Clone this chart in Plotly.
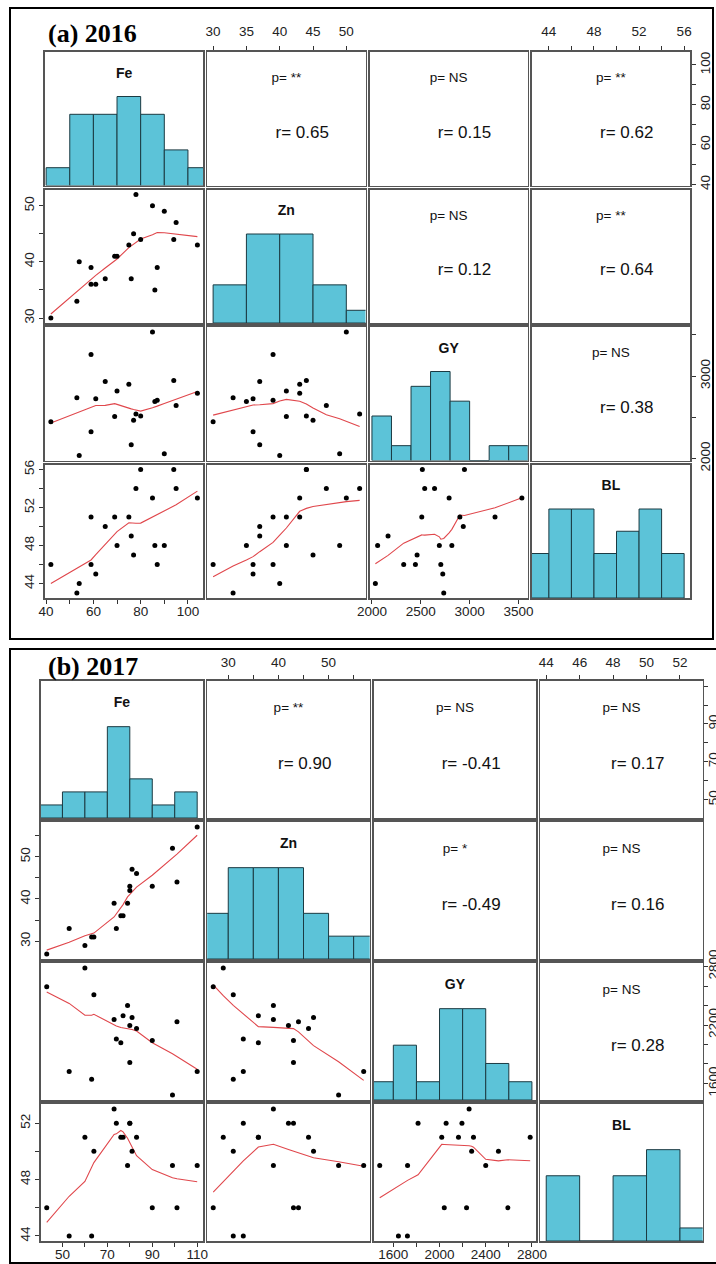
import numpy as np
import plotly.graph_objects as go

W, H = 716, 1264
VARS = ["Fe", "Zn", "GY", "BL"]

# ---------------- data ----------------
# (a) 2016, one value per genotype
fe16 = [42, 53, 54, 59, 59, 61, 65, 69, 70, 75, 76, 77, 78, 80, 85, 86, 87, 90, 94, 95, 104]
zn16 = [30, 33, 40, 39, 36, 36, 37, 41, 41, 43, 37, 45, 52, 44, 50, 35, 39, 49, 44, 47, 43]
gy16 = [2445, 2735, 2035, 3260, 2325, 2725, 2935, 2510, 2818, 2900, 2165, 2462, 2540, 2516,
        3535, 2690, 2705, 2058, 2947, 2641, 2790]
bl16 = [46, 43, 44, 51, 46, 45, 50, 51, 48, 51, 49, 47, 54, 56, 53, 48, 46, 48, 56, 54, 53]

# (b) 2017
fe17 = [43, 53, 60, 63, 64, 73, 74, 76, 77, 79, 80, 80, 81, 83, 90, 99, 101, 110]
zn17 = [27, 33, 29, 31, 31, 39, 33, 36, 36, 39, 42, 43, 47, 46, 43, 52, 44, 57]
gy17 = [2592, 1722, 2785, 1644, 2510, 2256, 2057, 2019, 2294, 2400, 2194, 1814, 2278, 2164,
        2041, 1482, 2234, 1723]
bl17 = [46, 44, 51, 44, 50, 53, 52, 51, 51, 49, 52, 52, 50, 51, 46, 49, 46, 49]

# upper-triangle labels, order: (Fe,Zn) (Fe,GY) (Fe,BL) (Zn,GY) (Zn,BL) (GY,BL)
r16 = ["0.65", "0.15", "0.62", "0.12", "0.64", "0.38"]
p16 = ["**", "NS", "**", "NS", "**", "NS"]
r17 = ["0.90", "-0.41", "0.17", "-0.49", "0.16", "0.28"]
p17 = ["**", "NS", "NS", "*", "NS", "NS"]

# histogram break points
edges16 = {"Fe": list(range(40, 111, 10)), "Zn": list(range(30, 56, 5)),
           "GY": list(range(2000, 3601, 200)), "BL": list(range(42, 57, 2))}
edges17 = {"Fe": list(range(40, 111, 10)), "Zn": list(range(25, 61, 5)),
           "GY": list(range(1400, 2801, 200)), "BL": list(range(44, 55, 2))}

# axis ticks: all tick positions, labels shown on x side / y side
ticks16 = {
    "Fe": (list(range(40, 101, 10)), [40, 60, 80, 100], [40, 60, 80, 100]),
    "Zn": (list(range(30, 51, 5)), [30, 35, 40, 45, 50], [30, 40, 50]),
    "GY": (list(range(2000, 3501, 500)), [2000, 2500, 3000, 3500], [2000, 3000]),
    "BL": (list(range(44, 57, 2)), [44, 48, 52, 56], [44, 48, 52, 56]),
}
ticks17 = {
    "Fe": (list(range(50, 111, 10)), [50, 70, 90, 110], [50, 70, 90]),
    "Zn": (list(range(30, 56, 5)), [30, 40, 50], [30, 40, 50]),
    "GY": (list(range(1600, 2801, 200)), [1600, 2000, 2400, 2800], [1600, 2200, 2800]),
    "BL": (list(range(44, 53, 2)), [44, 46, 48, 50, 52], [44, 48, 52]),
}

panels = [
    dict(title="(a) 2016", data=[fe16, zn16, gy16, bl16], r=r16, p=p16, edges=edges16,
         ticks=ticks16, grid=(45, 690, 52, 598), box=(10, 713, 8, 639), title_xy=(46, 33),
         top_off=5, right_off=-2),
    dict(title="(b) 2017", data=[fe17, zn17, gy17, bl17], r=r17, p=p17, edges=edges17,
         ticks=ticks17, grid=(40.7, 702.7, 681, 1241), box=(10, 722, 649, 1263), title_xy=(46, 666),
         top_off=3, right_off=-7),
]

BAR_FILL = "#5CC3D8"
BAR_LINE = "#1B3A42"
CELL_LINE = "#555555"
LINE_RED = "#E0474C"
FONT = "Liberation Sans, Arial, sans-serif"


def lowess(x, y, f=2 / 3, iters=3):
    x = np.asarray(x, float)
    y = np.asarray(y, float)
    o = np.argsort(x, kind="mergesort")
    x, y = x[o], y[o]
    n = len(x)
    ns = max(2, min(n, int(f * n + 1e-7)))
    rw = np.ones(n)
    ys = np.zeros(n)
    for it in range(iters + 1):
        nleft, nright = 0, ns - 1
        for i in range(n):
            xs = x[i]
            while nright < n - 1:
                if xs - x[nleft] <= x[nright + 1] - xs:
                    break
                nleft += 1
                nright += 1
            h = max(xs - x[nleft], x[nright] - xs)
            h9, h1 = 0.999 * h, 0.001 * h
            w = np.zeros(n)
            for j in range(nleft, n):
                r = abs(x[j] - xs)
                if r <= h9:
                    w[j] = 1.0 if r <= h1 else (1 - (r / h) ** 3) ** 3
                    w[j] *= rw[j]
                elif x[j] > xs:
                    break
            a = w.sum()
            if a <= 0:
                ys[i] = y[i]
                continue
            w = w / a
            if h > 0:
                xm = np.sum(w * x)
                c = np.sum(w * (x - xm) ** 2)
                if np.sqrt(c) > 0.001 * (x[-1] - x[0]):
                    b = (xs - xm) / c
                    w = w * (b * (x - xm) + 1.0)
            ys[i] = np.sum(w * y)
        if it == iters:
            break
        res = y - ys
        sc = np.mean(np.abs(res))
        cmad = 6 * np.median(np.abs(res))
        if cmad < 1e-7 * sc:
            break
        c9, c1 = 0.999 * cmad, 0.001 * cmad
        ar = np.abs(res)
        rw = np.where(ar <= c1, 1.0, np.where(ar <= c9, (1 - (ar / cmad) ** 2) ** 2, 0.0))
    return x, ys


def rhist(vals, edges):
    v = np.asarray(vals, float)
    e = np.asarray(edges, float)
    idx = np.searchsorted(e, v, side="left") - 1
    idx[v == e[0]] = 0
    return np.bincount(idx, minlength=len(e) - 1)[: len(e) - 1]


def rrange(v):
    lo, hi = min(v), max(v)
    d = 0.04 * (hi - lo)
    return [lo - d, hi + d]


fig = go.Figure()
layout = {}
shapes = []
annotations = []
GAP = 4
k = 0
for P in panels:
    gx0, gx1, gy0, gy1 = P["grid"]
    cw = (gx1 - gx0 - 3 * GAP) / 4
    ch = (gy1 - gy0 - 3 * GAP) / 4
    rngs = [rrange(v) for v in P["data"]]
    up = 0
    for i in range(4):
        for j in range(4):
            k += 1
            left = gx0 + j * (cw + GAP)
            top = gy0 + i * (ch + GAP)
            xa = dict(domain=[left / W, (left + cw) / W], range=rngs[j], anchor=f"y{k}",
                      showgrid=False, zeroline=False, showline=True, mirror=True,
                      linecolor=CELL_LINE, linewidth=1.6, ticks="", showticklabels=False,
                      fixedrange=True, automargin=False)
            ya = dict(domain=[1 - (top + ch) / H, 1 - top / H], anchor=f"x{k}",
                      range=[0, 1.5] if i == j else rngs[i],
                      showgrid=False, zeroline=False, showline=True, mirror=True,
                      linecolor=CELL_LINE, linewidth=1.6, ticks="", showticklabels=False,
                      fixedrange=True, automargin=False)
            tickfont = dict(family=FONT, size=13.5, color="#222")
            var_j, var_i = VARS[j], VARS[i]
            # x tick axes: bottom for cols 1,3 (row 4); top for cols 2,4 (row 1)
            if (i == 3 and j % 2 == 0) or (i == 0 and j % 2 == 1):
                tv, xl, _ = P["ticks"][var_j]
                xa.update(ticks="outside", ticklen=4, tickwidth=1, tickcolor="#333",
                          showticklabels=True, tickvals=tv,
                          ticktext=[str(t) if t in xl else "" for t in tv],
                          side="bottom" if i == 3 else "top", tickfont=tickfont,
                          ticklabelstandoff=-4 if i == 3 else P["top_off"])
            # y tick axes: left for rows 2,4 (col 1); right for rows 1,3 (col 4)
            if (j == 0 and i % 2 == 1) or (j == 3 and i % 2 == 0):
                tv, _, yl = P["ticks"][var_i]
                ya.update(ticks="outside", ticklen=4, tickwidth=1, tickcolor="#333",
                          showticklabels=True, tickvals=tv,
                          ticktext=[str(t) if t in yl else "" for t in tv],
                          side="left" if j == 0 else "right", tickangle=-90,
                          tickfont=tickfont, ticklabelstandoff=0 if j == 0 else P["right_off"])
            layout[f"xaxis{k}"] = xa
            layout[f"yaxis{k}"] = ya
            xr, yr = f"x{k}", f"y{k}"
            if i == j:
                e = np.asarray(P["edges"][var_i], float)
                cnt = rhist(P["data"][i], e)
                fig.add_trace(go.Bar(x=(e[:-1] + e[1:]) / 2, y=cnt / cnt.max(), width=np.diff(e),
                                     marker=dict(color=BAR_FILL, line=dict(color=BAR_LINE, width=1)),
                                     xaxis=xr, yaxis=yr, hoverinfo="skip"))
                mid = (rngs[j][0] + rngs[j][1]) / 2
                fig.add_trace(go.Scatter(x=[mid], y=[1.25], mode="text", text=[f"<b>{var_i}</b>"],
                                         textfont=dict(family=FONT, size=14, color="#111"),
                                         xaxis=xr, yaxis=yr, hoverinfo="skip", cliponaxis=False))
            elif i > j:
                xv, yv = P["data"][j], P["data"][i]
                sx, sy = lowess(xv, yv)
                fig.add_trace(go.Scatter(x=sx, y=sy, mode="lines",
                                         line=dict(color=LINE_RED, width=1.1),
                                         xaxis=xr, yaxis=yr, hoverinfo="skip"))
                fig.add_trace(go.Scatter(x=xv, y=yv, mode="markers",
                                         marker=dict(color="black", size=5),
                                         xaxis=xr, yaxis=yr, hoverinfo="skip", cliponaxis=False))
            else:
                xlo, xhi = rngs[j]
                ylo, yhi = rngs[i]
                fig.add_trace(go.Scatter(
                    x=[xlo + 0.5 * (xhi - xlo), xlo + 0.6 * (xhi - xlo)],
                    y=[ylo + 0.8 * (yhi - ylo), ylo + 0.39 * (yhi - ylo)],
                    mode="text",
                    text=[f"p= {P['p'][up]}", f"r= {P['r'][up]}"],
                    textfont=dict(family=FONT, size=[13.5, 17], color="#111"),
                    xaxis=xr, yaxis=yr, hoverinfo="skip", cliponaxis=False))
                up += 1
    bx0, bx1, by0, by1 = P["box"]
    shapes.append(dict(type="rect", xref="paper", yref="paper", x0=bx0 / W, x1=bx1 / W,
                       y0=1 - by1 / H, y1=1 - by0 / H, line=dict(color="black", width=2)))
    tx, ty = P["title_xy"]
    annotations.append(dict(xref="paper", yref="paper", x=tx / W, y=1 - ty / H, xanchor="left",
                            yanchor="middle", showarrow=False, text=f"<b>{P['title']}</b>",
                            font=dict(family="Liberation Serif, Times New Roman, serif", size=26,
                                      color="black")))

fig.update_layout(width=W, height=H, margin=dict(l=0, r=0, t=0, b=0), template="none",
                  paper_bgcolor="white", plot_bgcolor="white", showlegend=False,
                  hovermode=False, shapes=shapes, annotations=annotations, **layout)
fig.write_html("out.html", config={"displayModeBar": False, "staticPlot": True},
               post_script="document.body.style.margin='0px';document.body.style.overflow='hidden';")
